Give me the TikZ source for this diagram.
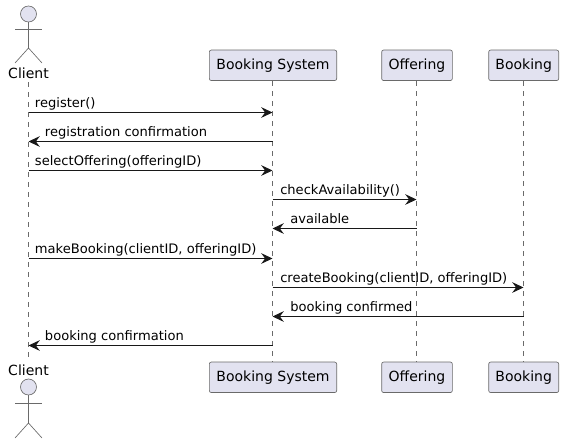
\documentclass[tikz,border=0pt]{standalone}
\usepackage{fontspec}
\setmainfont{DejaVu Sans}
\usetikzlibrary{arrows.meta}
\definecolor{partfill}{HTML}{E2E2F0}
\definecolor{partline}{HTML}{181818}
\definecolor{thinline}{HTML}{6A6A6A}
\tikzset{
  part/.style={draw=thinline,fill=partfill,rounded corners=1.5pt,line width=.5pt,minimum height=22.9pt,inner sep=0pt,font=\fontsize{10.5}{12}\selectfont},
  life/.style={draw=thinline,line width=.4pt,dash pattern=on 3.75pt off 3.75pt},
  msg/.style={draw=partline,line width=.75pt,-{Stealth[length=8.5pt,width=8pt,inset=3pt]}},
  lbl/.style={anchor=base west,inner sep=0pt,text=black,font=\fontsize{9.8}{12}\selectfont},
  who/.style={anchor=base,inner sep=0pt,text=black,font=\fontsize{10.5}{12}\selectfont},
  limb/.style={draw=thinline,line width=.5pt},
  head/.style={circle,draw=thinline,fill=partfill,line width=.5pt,minimum size=12pt,inner sep=0pt},
}
\begin{document}
\begin{tikzpicture}[x=.75pt,y=-.75pt,>=latex]
\useasboundingbox (0,0) rectangle (563,443);
% lifeline ends, boxes go on top of them
\coordinate (CTe) at (28.5,82);
\coordinate (CBe) at (28.5,362);
\coordinate (STe) at (272.5,81);
\coordinate (SBe) at (272.5,362);
\coordinate (OTe) at (416.5,81);
\coordinate (OBe) at (416.5,362);
\coordinate (BTe) at (523.5,81);
\coordinate (BBe) at (523.5,362);
\draw[life] (CTe) -- (CBe);
\draw[life] (STe) -- (SBe);
\draw[life] (OTe) -- (OBe);
\draw[life] (BTe) -- (BBe);
% participants
\node[part,minimum width=95.5pt] (ST) at (273,65.3) {Booking System};
\node[part,minimum width=53pt] (OT) at (417,65.3) {Offering};
\node[part,minimum width=52.5pt] (BT) at (523.7,65.3) {Booking};
\node[part,minimum width=95.5pt] (SB) at (273,377.3) {Booking System};
\node[part,minimum width=53pt] (OB) at (417,377.3) {Offering};
\node[part,minimum width=52.5pt] (BB) at (523.7,377.3) {Booking};
\node[who] (CT) at (28.5,78) {Client};
\node[who] (CB) at (28.5,375) {Client};
% top actor
\node[head] (HT) at (28.5,14) {};
\coordinate (HipT) at (28.5,48);
\coordinate (AlT) at (15,29);
\coordinate (ArT) at (42,29);
\coordinate (FlT) at (15,63);
\coordinate (FrT) at (42,63);
\draw[limb] (HT) -- (HipT);
\draw[limb] (AlT) -- (ArT);
\draw[limb] (FlT) -- (HipT) -- (FrT);
% bottom actor
\node[head] (HB) at (28.5,387) {};
\coordinate (HipB) at (28.5,423);
\coordinate (AlB) at (15,403);
\coordinate (ArB) at (42,403);
\coordinate (FlB) at (15,438);
\coordinate (FrB) at (42,438);
\draw[limb] (HB) -- (HipB);
\draw[limb] (AlB) -- (ArB);
\draw[limb] (FlB) -- (HipB) -- (FrB);
% stops on the lifelines
\foreach \i/\y in {1/112.5,2/141.5,3/170.5,4/199.5,5/228.5,6/258.5,7/287.5,8/316.5,9/345.5} {
  \coordinate (C\i) at (28.5,\y);
  \coordinate (S\i) at (272.5,\y);
  \coordinate (O\i) at (416.5,\y);
  \coordinate (B\i) at (523.5,\y);
}
% messages
\draw[msg] (C1) -- (S1);
\draw[msg] (S2) -- (C2);
\draw[msg] (C3) -- (S3);
\draw[msg] (S4) -- (O4);
\draw[msg] (O5) -- (S5);
\draw[msg] (C6) -- (S6);
\draw[msg] (S7) -- (B7);
\draw[msg] (B8) -- (S8);
\draw[msg] (S9) -- (C9);
\node[lbl] (m1) at (34.7,107.5) {register()};
\node[lbl] (m2) at (44.7,136.5) {registration confirmation};
\node[lbl] (m3) at (34.7,165.5) {selectOffering(offeringID)};
\node[lbl] (m4) at (280,194.5) {checkAvailability()};
\node[lbl] (m5) at (290,223.5) {available};
\node[lbl] (m6) at (34.7,253.5) {makeBooking(clientID, offeringID)};
\node[lbl] (m7) at (280,282.5) {createBooking(clientID, offeringID)};
\node[lbl] (m8) at (290,311.5) {booking confirmed};
\node[lbl] (m9) at (44.7,340.5) {booking confirmation};
\end{tikzpicture}
\end{document}
